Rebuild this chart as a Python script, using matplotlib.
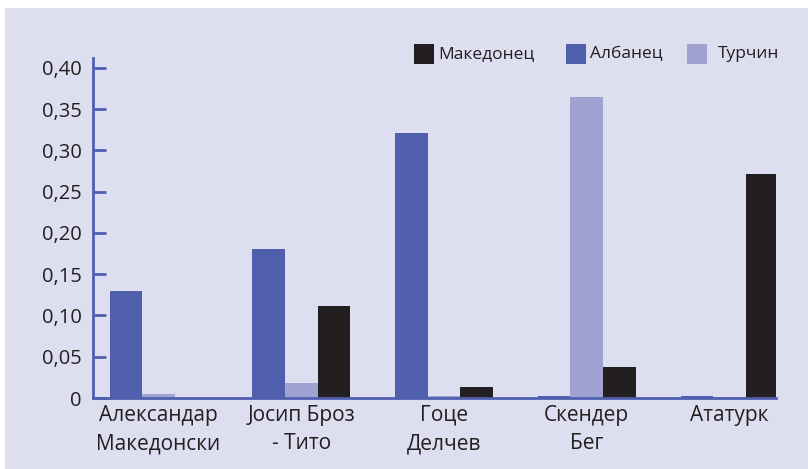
import matplotlib
matplotlib.use("Agg")
import matplotlib.pyplot as plt
from matplotlib.patches import Rectangle
import numpy as np

categories = ["Александар\nМакедонски", "Јосип Броз\n- Тито", "Гоце\nДелчев", "Скендер\nБег", "Ататурк"]
series_names = ["Македонец", "Албанец", "Турчин"]
albanec = [0.130, 0.181, 0.321, 0.002, 0.002]
turchin = [0.005, 0.018, 0.002, 0.365, 0.001]
makedonec = [0.0, 0.111, 0.013, 0.038, 0.271]
yticks = [0, 0.05, 0.10, 0.15, 0.20, 0.25, 0.30, 0.35, 0.40]
ytick_labels = ["0", "0,05", "0,10", "0,15", "0,20", "0,25", "0,30", "0,35", "0,40"]

c_mk = "#231F20"
c_al = "#4F5FAD"
c_tr = "#A0A2D2"
bg = "#DDDEF0"
axis_c = "#5060B0"
txt_c = "#231F20"

plt.rcParams['font.family'] = ['Open Sans', 'DejaVu Sans']

fig = plt.figure(figsize=(8.08, 4.69), dpi=100)
fig.patch.set_facecolor("white")
fig.patches.append(Rectangle((5/808, 0), 1, 1 - 8/469, transform=fig.transFigure,
                             facecolor=bg, edgecolor="none", zorder=-10))

ax = fig.add_axes([93/808, 1 - 398/469, (776 - 93)/808, (398 - 58)/469])
ax.set_facecolor("none")

x = np.arange(len(categories))
w = 0.228
b_al = ax.bar(x - w, albanec, w, color=c_al, label=series_names[1], zorder=2)
b_tr = ax.bar(x, turchin, w, color=c_tr, label=series_names[2], zorder=2)
b_mk = ax.bar(x + w, makedonec, w, color=c_mk, label=series_names[0], zorder=2)

ax.set_xlim(-0.459, 4.326)
ax.set_ylim(0, 0.412)
ax.set_yticks(yticks)
ax.set_yticklabels(ytick_labels)
ax.set_xticks(x)
ax.set_xticklabels(categories, linespacing=1.45)

for s in ["top", "right"]:
    ax.spines[s].set_visible(False)
for s in ["left", "bottom"]:
    ax.spines[s].set_color(axis_c)
    ax.spines[s].set_linewidth(2)

ax.tick_params(axis="y", direction="in", length=9.5, width=2, color=axis_c,
               labelsize=14.5, labelcolor=txt_c, pad=8)
ax.tick_params(axis="x", length=0, labelsize=15, labelcolor=txt_c, pad=5)

# legend (manual placement to match reference spacing)
leg_items = [(series_names[0], c_mk, 414, 438),
             (series_names[1], c_al, 566, 590),
             (series_names[2], c_tr, 687, 718)]
for name, col, sx, tx in leg_items:
    fig.patches.append(Rectangle((sx/808, 1 - 64/469), 20/808, 20/469,
                                 transform=fig.transFigure, facecolor=col,
                                 edgecolor="none"))
    fig.text(tx/808, 1 - 54/469, name, ha="left", va="center",
             fontsize=12.5, color=txt_c)

fig.savefig("out.png", dpi=100, facecolor=fig.get_facecolor())
